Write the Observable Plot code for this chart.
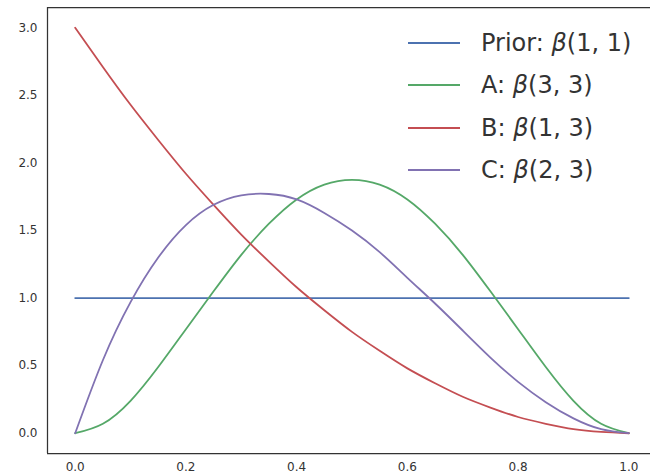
<!DOCTYPE html>
<html>
<head>
<meta charset="utf-8">
<script src="https://cdn.jsdelivr.net/npm/d3@7"></script>
<script src="https://cdn.jsdelivr.net/npm/@observablehq/plot@0.6"></script>
<style>
  html, body { margin: 0; padding: 0; background: #fff; overflow: hidden; }
  #wrap { position: relative; width: 650px; height: 476px; }
  #legend { position: absolute; left: 408px; top: 21.5px; font-family: "DejaVu Sans", sans-serif; font-size: 24px; color: #333; }
  .row { display: flex; align-items: center; height: 42.5px; white-space: nowrap; }
  .sw { width: 52px; height: 0; border-top: 2px solid; margin-right: 21px; }
  .b { font-style: italic; }
</style>
</head>
<body>
<div id="wrap"></div>
<script>
const xs = [0,0.05,0.1,0.15,0.2,0.25,0.3,0.35,0.4,0.45,0.5,0.55,0.6,0.65,0.7,0.75,0.8,0.85,0.9,0.95,1];
const prior = [1,1,1,1,1,1,1,1,1,1,1,1,1,1,1,1,1,1,1,1,1];
const seriesA = [0,0.07,0.24,0.49,0.77,1.05,1.32,1.55,1.73,1.84,1.875,1.84,1.73,1.55,1.32,1.05,0.77,0.49,0.24,0.07,0];
const seriesB = [3,2.71,2.43,2.17,1.92,1.69,1.47,1.27,1.08,0.91,0.75,0.61,0.48,0.37,0.27,0.19,0.12,0.07,0.03,0.01,0];
const seriesC = [0,0.54,0.97,1.30,1.54,1.69,1.76,1.77,1.73,1.63,1.5,1.34,1.15,0.96,0.76,0.56,0.38,0.23,0.11,0.03,0];
const names = ["Prior", "A", "B", "C"];
const params = ["(1, 1)", "(3, 3)", "(1, 3)", "(2, 3)"];
const colors = ["#4C72B0", "#55A868", "#C44E52", "#8172B2"];
const xTicks = [0, 0.2, 0.4, 0.6, 0.8, 1.0];
const yTicks = [0, 0.5, 1.0, 1.5, 2.0, 2.5, 3.0];
const xDomain = [-0.05, 1.05];
const yDomain = [-0.15, 3.15];

const allSeries = [prior, seriesA, seriesB, seriesC];
const data = [];
allSeries.forEach((vals, i) => vals.forEach((v, j) => data.push({x: xs[j], y: v, s: names[i]})));

const chart = Plot.plot({
  width: 650,
  height: 476,
  marginLeft: 47,
  marginTop: 7,
  marginBottom: 23,
  marginRight: 0,
  style: { fontFamily: "DejaVu Sans, sans-serif", fontSize: "12px", color: "#333", background: "#fff" },
  x: { domain: xDomain, range: [47, 656], ticks: xTicks, tickFormat: d3.format(".1f"), label: null },
  y: { domain: yDomain, ticks: yTicks, tickFormat: d3.format(".1f"), label: null },
  color: { domain: names, range: colors },
  marks: [
    Plot.axisX({ ticks: xTicks, tickSize: 0, tickPadding: 9, fontSize: 12, tickFormat: d3.format(".1f"), label: null }),
    Plot.axisY({ ticks: yTicks, tickSize: 0, tickPadding: 10, fontSize: 12, tickFormat: d3.format(".1f"), label: null }),
    Plot.lineY(data, { x: "x", y: "y", z: "s", stroke: "s", strokeWidth: 1.8, curve: "natural" }),
    Plot.ruleY([yDomain[0], yDomain[1]], { stroke: "#333", strokeWidth: 1.25 }),
    Plot.ruleX([xDomain[0]], { stroke: "#333", strokeWidth: 1.25 })
  ]
});

const wrap = document.getElementById("wrap");
wrap.appendChild(chart);
const legend = document.createElement("div");
legend.id = "legend";
names.forEach((n, i) => {
  const row = document.createElement("div");
  row.className = "row";
  row.innerHTML = `<span class="sw" style="border-color:${colors[i]}"></span><span>${n}: <span class="b">β</span>${params[i]}</span>`;
  legend.appendChild(row);
});
wrap.appendChild(legend);
</script>
</body>
</html>
